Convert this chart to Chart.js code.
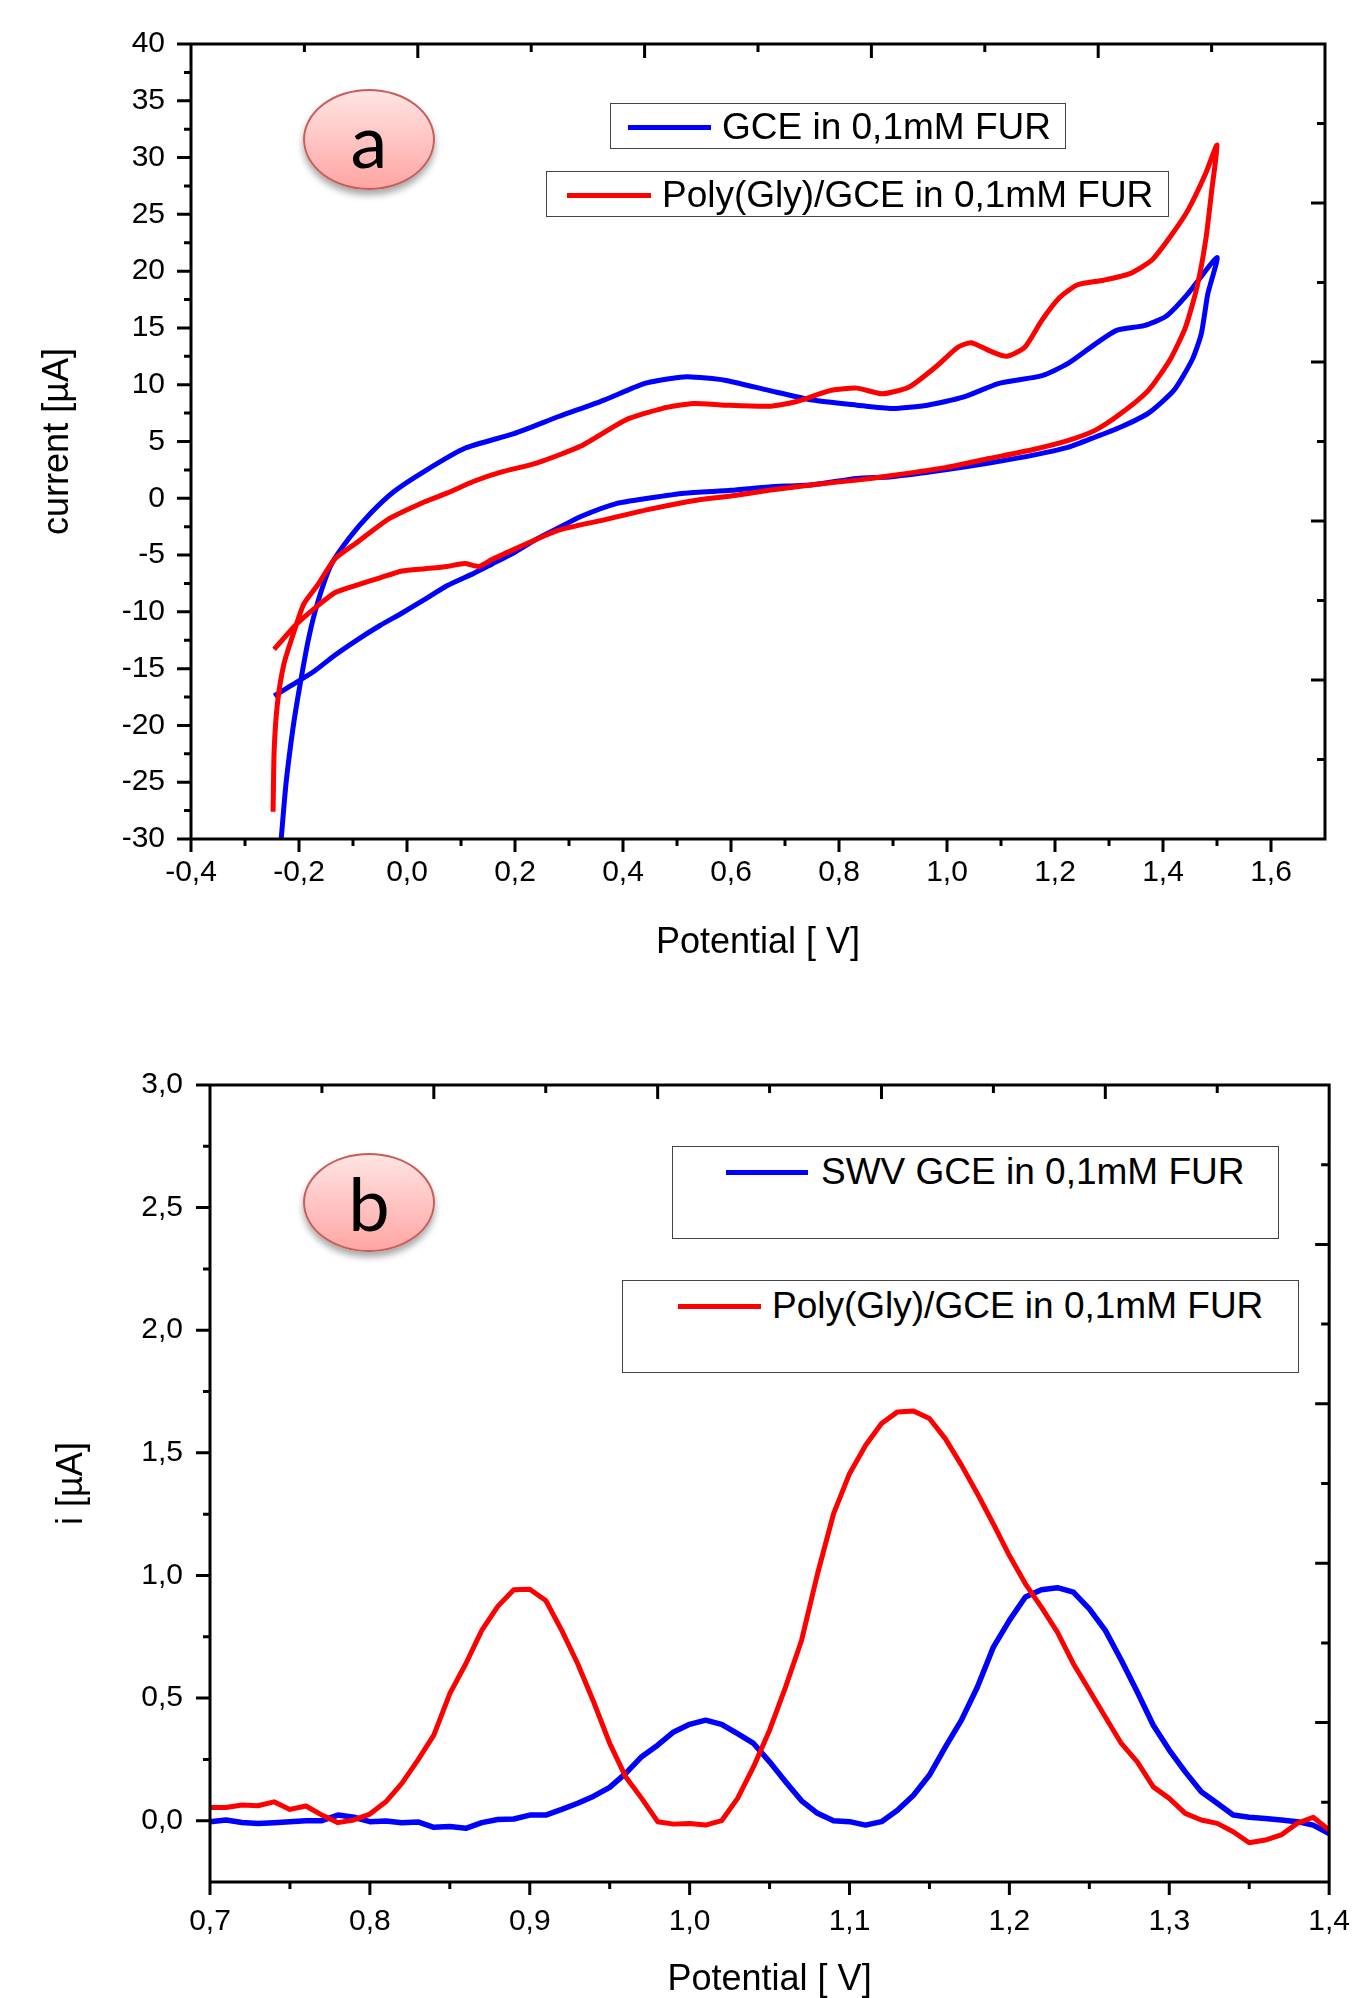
<!DOCTYPE html>
<html>
<head>
<meta charset="utf-8">
<title>FUR at GCE and Poly(Gly)/GCE</title>
<script src="https://cdn.jsdelivr.net/npm/chart.js@4.4.1/dist/chart.umd.min.js"></script>
<style>
  html, body { margin: 0; padding: 0; background: #fff; }
  body { width: 1372px; height: 1998px; position: relative; overflow: hidden;
         font-family: 'Liberation Sans', Arial, sans-serif; color: #000; }
  canvas { position: absolute; left: 0; }
  #cvChart  { top: 0; }
  #swvChart { top: 1000px; }
  .badge { position: absolute; box-sizing: border-box; border-radius: 50%;
           border: 2px solid #c65f5c; background: linear-gradient(#ffe4e3, #ffa6a4);
           box-shadow: 0 5px 7px rgba(0,0,0,.35); text-align: center;
           font-family: Lato, 'Open Sans', sans-serif; font-size: 74px; }
  .legend-box { position: absolute; box-sizing: border-box; border: 1.5px solid #444; background: #fff; }
  .legend-item { position: absolute; height: 50px; display: flex; align-items: center;
                 font-size: 37px; white-space: nowrap; }
  .legend-item span.swatch { display: inline-block; height: 5px; }
</style>
</head>
<body>
<canvas id="cvChart" width="1372" height="1000"></canvas>
<canvas id="swvChart" width="1372" height="998"></canvas>

<div class="badge" style="left:303px; top:89px; width:132px; height:101px; line-height:97px;">a</div>
<div class="badge" style="left:303px; top:1153px; width:132px; height:99px; line-height:95px;">b</div>

<div class="legend-box" style="left:610px; top:103px; width:456px; height:46px;"></div>
<div class="legend-box" style="left:546px; top:171px; width:623px; height:46px;"></div>
<div class="legend-box" style="left:672px; top:1146px; width:607px; height:93px;"></div>
<div class="legend-box" style="left:622px; top:1280px; width:677px; height:93px;"></div>
<div id="legendA1" class="legend-item" style="left:628px; top:102px;"></div>
<div id="legendA2" class="legend-item" style="left:567px; top:170px;"></div>
<div id="legendB1" class="legend-item" style="left:726px; top:1147px;"></div>
<div id="legendB2" class="legend-item" style="left:678px; top:1281px;"></div>

<script>
// ---- panel a : cyclic voltammograms ----
const gceForwardE = [-0.233, -0.224, -0.211, -0.198, -0.182, -0.165, -0.141, -0.107, -0.067, -0.024,
  0.033, 0.107, 0.198, 0.281, 0.365, 0.439, 0.489, 0.52, 0.588, 0.67, 0.751, 0.833, 0.898, 0.964,
  1.03, 1.095, 1.176, 1.225, 1.275, 1.315, 1.365, 1.405, 1.446, 1.5];
const gceForwardI = [-30, -25.1, -20.2, -16.4, -12.3, -9.1, -5.9, -3.5, -1.3, 0.6,
  2.4, 4.4, 5.7, 7.2, 8.65, 10.1, 10.55, 10.7, 10.4, 9.5, 8.65, 8.2, 7.9, 8.2,
  8.9, 10.1, 10.8, 11.9, 13.6, 14.8, 15.2, 16.0, 18.0, 21.2];
const gceReverseE = [1.483, 1.471, 1.454, 1.42, 1.373, 1.323, 1.275, 1.225, 1.16, 1.078, 0.997, 0.898,
  0.833, 0.751, 0.67, 0.6, 0.513, 0.446, 0.389, 0.322, 0.281, 0.24, 0.198, 0.157, 0.124, 0.074,
  0.033, -0.009, -0.05, -0.09, -0.133, -0.174, -0.215, -0.246];
const gceReverseI = [18.0, 14.5, 12.2, 9.5, 7.5, 6.3, 5.4, 4.5, 3.8, 3.1, 2.5, 1.9,
  1.75, 1.2, 1.0, 0.7, 0.45, 0.0, -0.45, -1.6, -2.6, -3.6, -4.8, -5.8, -6.6, -7.7,
  -8.9, -10.1, -11.2, -12.4, -13.8, -15.3, -16.5, -17.4];

const polyForwardE = [-0.248, -0.246, -0.24, -0.228, -0.211, -0.191, -0.165, -0.133, -0.09, -0.033,
  0.033, 0.074, 0.124, 0.174, 0.24, 0.322, 0.405, 0.472, 0.53, 0.588, 0.67, 0.72, 0.785, 0.833,
  0.88, 0.93, 0.98, 1.02, 1.045, 1.078, 1.11, 1.144, 1.176, 1.209, 1.242, 1.29, 1.34, 1.38,
  1.413, 1.446, 1.479, 1.5];
const polyForwardI = [-27.6, -22.2, -18.1, -14.6, -12.0, -9.3, -7.6, -5.3, -3.8, -1.8,
  -0.3, 0.45, 1.5, 2.3, 3.1, 4.6, 6.9, 7.9, 8.35, 8.2, 8.1, 8.5, 9.5, 9.7,
  9.2, 9.8, 11.6, 13.3, 13.7, 13.0, 12.5, 13.3, 15.7, 17.7, 18.8, 19.2, 19.8, 21.0,
  23.0, 25.35, 28.6, 31.1];
const polyReverseE = [1.491, 1.479, 1.463, 1.442, 1.413, 1.373, 1.323, 1.275, 1.225, 1.16, 1.078,
  0.997, 0.898, 0.833, 0.751, 0.67, 0.6, 0.539, 0.446, 0.365, 0.281, 0.24, 0.198, 0.157, 0.133,
  0.107, 0.074, 0.033, -0.009, -0.05, -0.09, -0.133, -0.174, -0.207, -0.246];
const polyReverseI = [27.4, 22.7, 18.6, 15.1, 12.2, 9.5, 7.5, 6.0, 5.1, 4.3, 3.5,
  2.7, 2.0, 1.6, 1.2, 0.7, 0.2, -0.15, -1.0, -1.9, -2.8, -3.6, -4.5, -5.4, -6.0,
  -5.75, -6.0, -6.2, -6.4, -7.0, -7.6, -8.3, -9.8, -11.2, -13.3];

const cvTicksX = [-0.4, -0.2, 0.0, 0.2, 0.4, 0.6, 0.8, 1.0, 1.2, 1.4, 1.6];
const cvTicksY = [-30, -25, -20, -15, -10, -5, 0, 5, 10, 15, 20, 25, 30, 35, 40];

// ---- panel b : square wave voltammograms ----
const swvPotential = [0.70, 0.71, 0.72, 0.73, 0.74, 0.75, 0.76, 0.77, 0.78, 0.79,
  0.80, 0.81, 0.82, 0.83, 0.84, 0.85, 0.86, 0.87, 0.88, 0.89,
  0.90, 0.91, 0.92, 0.93, 0.94, 0.95, 0.96, 0.97, 0.98, 0.99,
  1.00, 1.01, 1.02, 1.03, 1.04, 1.05, 1.06, 1.07, 1.08, 1.09,
  1.10, 1.11, 1.12, 1.13, 1.14, 1.15, 1.16, 1.17, 1.18, 1.19,
  1.20, 1.21, 1.22, 1.23, 1.24, 1.25, 1.26, 1.27, 1.28, 1.29,
  1.30, 1.31, 1.32, 1.33, 1.34, 1.35, 1.36, 1.37, 1.38, 1.39, 1.40];
const swvGce = [-0.004, 0.003, -0.007, -0.011, -0.008, -0.004, 0.0, 0.0, 0.023, 0.014,
  -0.004, -0.001, -0.008, -0.005, -0.027, -0.024, -0.031, -0.008, 0.005, 0.007,
  0.023, 0.023, 0.046, 0.071, 0.100, 0.136, 0.193, 0.261, 0.308, 0.362,
  0.393, 0.410, 0.393, 0.355, 0.315, 0.240, 0.159, 0.081, 0.030, 0.000,
  -0.004, -0.018, -0.004, 0.043, 0.104, 0.186, 0.301, 0.410, 0.545, 0.708,
  0.817, 0.912, 0.942, 0.950, 0.932, 0.864, 0.776, 0.654, 0.525, 0.389,
  0.288, 0.199, 0.118, 0.071, 0.023, 0.014, 0.009, 0.003, -0.004, -0.018, -0.052];
const swvPoly = [0.054, 0.054, 0.064, 0.061, 0.077, 0.046, 0.060, 0.023, -0.008, 0.003,
  0.027, 0.077, 0.152, 0.247, 0.349, 0.518, 0.640, 0.776, 0.874, 0.942,
  0.944, 0.898, 0.776, 0.640, 0.484, 0.315, 0.179, 0.091, -0.004, -0.014,
  -0.011, -0.018, 0.000, 0.091, 0.220, 0.369, 0.545, 0.735, 1.007, 1.251,
  1.415, 1.530, 1.620, 1.667, 1.671, 1.640, 1.557, 1.450, 1.333, 1.210,
  1.081, 0.966, 0.871, 0.769, 0.640, 0.532, 0.423, 0.315, 0.240, 0.138,
  0.091, 0.030, 0.003, -0.011, -0.045, -0.090, -0.079, -0.058, -0.011, 0.014, -0.038];

const swvTicksX = [0.7, 0.8, 0.9, 1.0, 1.1, 1.2, 1.3, 1.4];
const swvTicksY = [0.0, 0.5, 1.0, 1.5, 2.0, 2.5, 3.0];

const cvLabels  = ['GCE in 0,1mM FUR', 'Poly(Gly)/GCE in 0,1mM FUR'];
const swvLabels = ['SWV GCE in 0,1mM FUR', 'Poly(Gly)/GCE in 0,1mM FUR'];

const BLUE = '#0000ff';
const RED  = '#ff0000';

// ---- helpers ----
const pairs = (xs, ys) => xs.map((x, i) => ({ x, y: ys[i] }));
const comma = v => Number(v).toFixed(1).replace('.', ',');
const fixTicks = list => scale => { scale.ticks = list.map(value => ({ value })); };

Chart.defaults.font.family = "'Liberation Sans', Arial, sans-serif";
Chart.defaults.color = '#000';

// frame with Origin-style ticks: out on bottom/left, in on top/right
const frameAxes = {
  id: 'frameAxes',
  afterDatasetsDraw(chart) {
    const { ctx, chartArea: { left, right, top, bottom }, scales: { x, y, x2, y2 } } = chart;
    const minorsOf = (scale) => {
      const v = scale.ticks.map(t => t.value);
      const step = v[1] - v[0];
      const out = [v[0] - step / 2];
      for (let i = 0; i < v.length; i++) out.push(v[i] + step / 2);
      return out.filter(m => m > scale.min + 1e-9 && m < scale.max - 1e-9);
    };
    ctx.save();
    ctx.strokeStyle = '#000';
    ctx.lineWidth = 3;
    ctx.beginPath();
    ctx.rect(left, top, right - left, bottom - top);

    x.ticks.forEach(t => { const p = x.getPixelForValue(t.value); ctx.moveTo(p, bottom); ctx.lineTo(p, bottom + 13); });
    minorsOf(x).forEach(m => { const p = x.getPixelForValue(m); ctx.moveTo(p, bottom); ctx.lineTo(p, bottom + 7); });
    y.ticks.forEach(t => { const p = y.getPixelForValue(t.value); ctx.moveTo(left, p); ctx.lineTo(left - 14, p); });
    minorsOf(y).forEach(m => { const p = y.getPixelForValue(m); ctx.moveTo(left, p); ctx.lineTo(left - 7, p); });

    for (let k = 1; k < 10; k++) {
      const len = k % 2 === 0 ? 14 : 8;
      const px = x2.getPixelForValue(k);
      ctx.moveTo(px, top); ctx.lineTo(px, top + len);
      const py = y2.getPixelForValue(k);
      ctx.moveTo(right, py); ctx.lineTo(right - len, py);
    }
    ctx.stroke();
    ctx.restore();
  }
};

const lineSet = (label, data, color, width, order, tension) => ({
  label, data, borderColor: color, backgroundColor: color, borderWidth: width,
  showLine: true, pointRadius: 0, tension, order, borderJoinStyle: 'round'
});

const axisBase = (min, max, ticks, fmt, pad) => ({
  type: 'linear', min, max,
  grid: { display: false, drawTicks: false },
  border: { display: false },
  afterBuildTicks: fixTicks(ticks),
  ticks: { padding: pad, font: { size: 30 }, color: '#000', autoSkip: false, maxRotation: 0, callback: fmt }
});
const hiddenScale = (position) => ({ type: 'linear', position, display: false, min: 0, max: 10 });

// ---- panel a ----
new Chart(document.getElementById('cvChart'), {
  type: 'scatter',
  data: {
    datasets: [
      lineSet(cvLabels[0], pairs(gceForwardE.concat(gceReverseE), gceForwardI.concat(gceReverseI)), BLUE, 5, 2, 0.2),
      lineSet(cvLabels[1], pairs(polyForwardE.concat(polyReverseE), polyForwardI.concat(polyReverseI)), RED, 5, 1, 0.2)
    ]
  },
  options: {
    responsive: false,
    animation: false,
    layout: { padding: { top: 43, right: 47, bottom: 0, left: 0 } },
    plugins: { legend: { display: false }, tooltip: { enabled: false } },
    scales: {
      x: Object.assign(axisBase(-0.4, 1.7, cvTicksX, comma, 16), {
        afterFit: s => { s.height = 161; },
        title: { display: true, text: 'Potential [ V]', color: '#000', font: { size: 36, lineHeight: 1 }, padding: { bottom: 39 } }
      }),
      y: Object.assign(axisBase(-30, 40, cvTicksY, v => String(v), 26), {
        afterFit: s => { s.width = 191; },
        title: { display: true, text: 'current [µA]', color: '#000', font: { size: 36, lineHeight: 1 }, padding: { top: 40 } }
      }),
      x2: hiddenScale('top'),
      y2: hiddenScale('right')
    }
  },
  plugins: [frameAxes]
});

// ---- panel b ----
new Chart(document.getElementById('swvChart'), {
  type: 'scatter',
  data: {
    datasets: [
      lineSet(swvLabels[0], pairs(swvPotential, swvGce), BLUE, 5.5, 2, 0),
      lineSet(swvLabels[1], pairs(swvPotential, swvPoly), RED, 5, 1, 0)
    ]
  },
  options: {
    responsive: false,
    animation: false,
    layout: { padding: { top: 85, right: 27, bottom: 0, left: 0 } },
    plugins: { legend: { display: false }, tooltip: { enabled: false } },
    scales: {
      x: Object.assign(axisBase(0.7, 1.4, swvTicksX, comma, 22), {
        afterFit: s => { s.height = 116; },
        title: { display: true, text: 'Potential [ V]', color: '#000', font: { size: 36, lineHeight: 1 }, padding: { bottom: 0 } }
      }),
      y: Object.assign(axisBase(-0.25, 3.0, swvTicksY, comma, 27), {
        afterFit: s => { s.width = 210; },
        title: { display: true, text: 'i [µA]', color: '#000', font: { size: 36, lineHeight: 1 }, padding: { top: 54 } }
      }),
      x2: hiddenScale('top'),
      y2: hiddenScale('right')
    }
  },
  plugins: [frameAxes]
});

// ---- legends (two separate framed entries per panel, as in the figure) ----
function legendEntry(id, text, color, lineLen, gap) {
  const el = document.getElementById(id);
  const sw = document.createElement('span');
  sw.className = 'swatch';
  sw.style.width = lineLen + 'px';
  sw.style.background = color;
  sw.style.marginRight = gap + 'px';
  el.appendChild(sw);
  el.appendChild(document.createTextNode(text));
}
legendEntry('legendA1', cvLabels[0], BLUE, 83, 11);
legendEntry('legendA2', cvLabels[1], RED, 84, 11);
legendEntry('legendB1', swvLabels[0], BLUE, 82, 13);
legendEntry('legendB2', swvLabels[1], RED, 83, 11);
</script>
</body>
</html>
